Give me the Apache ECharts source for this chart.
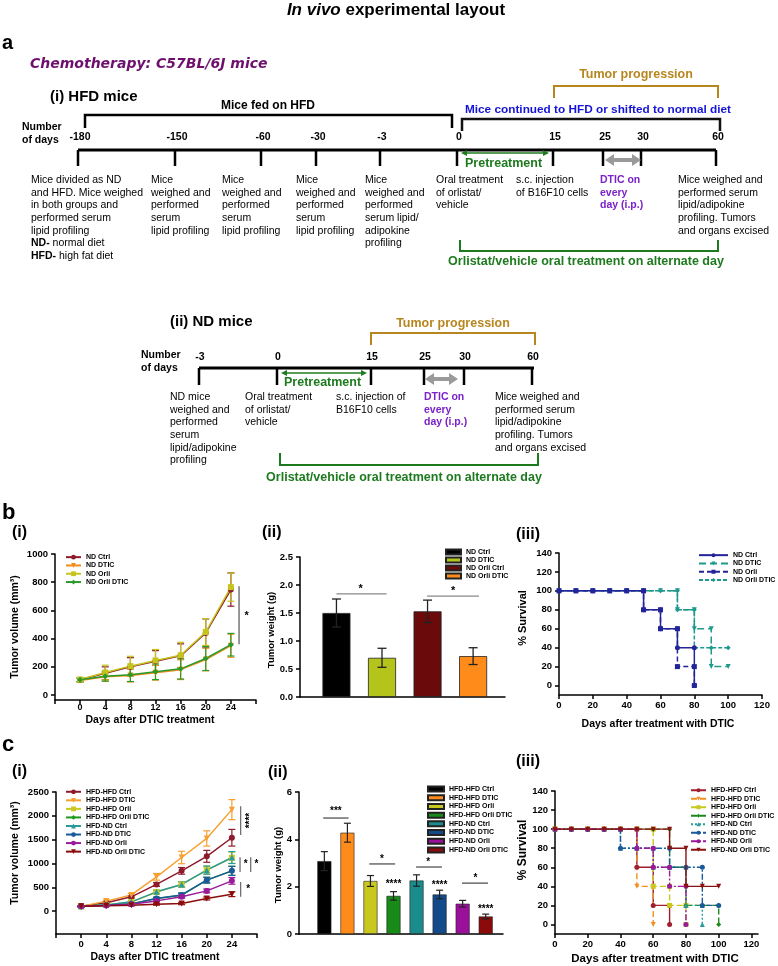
<!DOCTYPE html>
<html><head><meta charset="utf-8">
<script src="https://cdn.jsdelivr.net/npm/echarts@6/dist/echarts.min.js"></script>
<style>html,body{margin:0;padding:0;background:#fff}#c{width:778px;height:966px}</style>
</head><body><div id="c"></div>
<script>
// ===================== DATA =====================
// Panel a (schematic timelines)
const hfdTickLabels = ['-180','-150','-60','-30','-3','0','15','25','30','60'];
const ndTickLabels = ['-3','0','15','25','30','60'];
const hfdNotes = [
  ['Mice divided as ND','and HFD. Mice weighed','in both groups and','performed serum','lipid profiling','{b|ND-} normal diet','{b|HFD-} high fat diet'],
  ['Mice','weighed and','performed','serum','lipid profiling'],
  ['Mice','weighed and','performed','serum','lipid profiling'],
  ['Mice','weighed and','performed','serum','lipid profiling'],
  ['Mice','weighed and','performed','serum lipid/','adipokine','profiling'],
  ['Oral treatment','of orlistat/','vehicle'],
  ['s.c. injection','of B16F10 cells'],
  ['DTIC on','every','day (i.p.)'],
  ['Mice weighed and','performed serum','lipid/adipokine','profiling. Tumors','and organs excised']
];
const ndNotes = [
  ['ND mice','weighed and','performed','serum','lipid/adipokine','profiling'],
  ['Oral treatment','of orlistat/','vehicle'],
  ['s.c. injection of','B16F10 cells'],
  ['DTIC on','every','day (i.p.)'],
  ['Mice weighed and','performed serum','lipid/adipokine','profiling. Tumors','and organs excised']
];

// Panel b(i): tumor volume, ND groups
const b1Days = [0,4,8,12,16,20,24];
const b1Names = ['ND Ctrl','ND DTIC','ND Orli','ND Orli DTIC'];
const b1Ctrl = [108,155,200,240,278,440,748];
const b1CtrlErr = [12,45,65,75,85,100,118];
const b1Dtic = [104,130,138,158,180,252,350];
const b1DticErr = [12,32,45,52,70,80,82];
const b1Orli = [110,160,205,245,282,447,765];
const b1OrliErr = [14,52,70,78,92,95,100];
const b1OrliDtic = [108,134,144,165,186,259,357];
const b1OrliDticErr = [14,35,48,55,72,85,80];
const b1YTicks = [0,200,400,600,800,1000];
const b1SigLines = [[25.3,360,25.3,771]];
const b1SigPts = [[26.5,560]];
const b1SigText = ['*'];

// Panel b(ii): tumor weight, ND groups
const b2Names = ['ND Ctrl','ND DTIC','ND Orli Ctrl','ND Orli DTIC'];
const b2Vals = [1.50,0.70,1.53,0.73];
const b2Err = [0.25,0.17,0.20,0.15];
const b2SigLines = [[0,1.84,1.1,1.84],[1.99,1.80,3.13,1.80]];
const b2SigPts = [[0.53,1.93],[2.56,1.89]];
const b2SigText = ['*','*'];

// Panel b(iii): survival, ND groups
const b3Names = ['ND Ctrl','ND DTIC','ND Orli','ND Orli DTIC'];
const b3Ctrl = [[0,100],[10,100],[20,100],[30,100],[40,100],[50,100],[50,80],[60,80],[60,60],[70,60],[70,40],[80,40],[80,0]];
const b3Dtic = [[0,100],[10,100],[20,100],[30,100],[40,100],[50,100],[60,100],[70,100],[70,80],[80,80],[80,60],[90,60],[90,20],[100,20]];
const b3Orli = [[0,100],[10,100],[20,100],[30,100],[40,100],[50,100],[50,80],[60,80],[60,60],[70,60],[70,20],[80,20],[80,0]];
const b3OrliDtic = [[0,100],[10,100],[20,100],[30,100],[40,100],[50,100],[60,100],[70,100],[70,80],[80,80],[80,40],[90,40],[100,40]];
const survYTicks = [0,20,40,60,80,100,120,140];
const survXTicks = [0,20,40,60,80,100,120];

// Panel c(i): tumor volume, HFD groups
const c1Days = [0,4,8,12,16,20,24];
const c1Names = ['HFD-HFD Ctrl','HFD-HFD DTIC','HFD-HFD Orli','HFD-HFD Orli DTIC','HFD-ND Ctrl','HFD-ND DTIC','HFD-ND Orli','HFD-ND Orli DTIC'];
const c1HHCtrl = [100,175,300,560,845,1150,1540];
const c1HHDtic = [100,210,340,720,1125,1525,2130];
const c1HHOrli = [100,130,190,400,560,860,1120];
const c1HHOrliDtic = [100,125,150,265,335,650,845];
const c1HNCtrl = [100,130,195,405,560,860,1125];
const c1HNDtic = [100,125,152,265,340,650,845];
const c1HNOrli = [100,120,145,215,300,425,635];
const c1HNOrliDtic = [100,115,125,145,160,265,355];
const c1HHCtrlErr = [10,15,25,40,70,125,175];
const c1HHDticErr = [10,20,30,70,130,160,210];
const c1HHOrliErr = [10,15,20,30,55,85,120];
const c1HHOrliDticErr = [10,12,18,25,40,60,95];
const c1HNCtrlErr = [10,15,20,35,55,85,125];
const c1HNDticErr = [10,12,18,25,40,60,95];
const c1HNOrliErr = [10,12,15,20,30,40,70];
const c1HNOrliDticErr = [10,10,15,20,25,30,50];
const c1YTicks = [0,500,1000,1500,2000,2500];
const c1SigLines = [[25.4,1600,25.4,2200],[25.3,820,25.3,1130],[27.0,820,27.0,1130],[25.4,300,25.4,610]];
const c1SigPts = [[26.9,1900],[26.2,975],[27.9,975],[26.6,455]];
const c1SigText = ['****','*','*','*'];
const c1SigRot = [90,0,0,0];

// Panel c(ii): tumor weight, HFD groups
const c2Names = ['HFD-HFD Ctrl','HFD-HFD DTIC','HFD-HFD Orli','HFD-HFD Orli DTIC','HFD-ND Ctrl','HFD-ND DTIC','HFD-ND Orli','HFD-ND Orli DTIC'];
const c2Vals = [3.08,4.28,2.24,1.61,2.26,1.67,1.28,0.74];
const c2Err = [0.40,0.40,0.23,0.18,0.24,0.18,0.14,0.10];
const c2SigLines = [[-0.05,4.9,1.05,4.9],[1.95,2.96,3.07,2.96],[3.98,2.83,5.1,2.83],[5.97,2.15,7.1,2.15]];
const c2SigPts = [[0.5,5.2],[2.5,3.15],[3.0,2.1],[4.5,3.05],[5.0,2.05],[6.55,2.35],[7.0,1.05]];
const c2SigText = ['***','*','****','*','****','*','****'];

// Panel c(iii): survival, HFD groups
const c3Names = c1Names;
const c3HHCtrl = [[0,100],[10,100],[20,100],[30,100],[40,100],[50,100],[50,60],[60,60],[60,20],[70,20],[70,0]];
const c3HHDtic = [[0,100],[10,100],[20,100],[30,100],[40,100],[50,100],[50,40],[60,40],[60,0]];
const c3HHOrli = [[0,100],[10,100],[20,100],[30,100],[40,100],[50,100],[60,100],[60,40],[70,40],[70,20],[80,20],[80,0]];
const c3HHOrliDtic = [[0,100],[10,100],[20,100],[30,100],[40,100],[50,100],[60,100],[70,100],[70,60],[80,60],[80,20],[90,20],[100,20],[100,0]];
const c3HNCtrl = [[0,100],[10,100],[20,100],[30,100],[40,100],[40,80],[50,80],[60,80],[60,60],[70,60],[80,60],[80,20],[90,20],[90,0]];
const c3HNDtic = [[0,100],[10,100],[20,100],[30,100],[40,100],[40,80],[50,80],[60,80],[70,80],[70,60],[80,60],[90,60],[90,20],[100,20]];
const c3HNOrli = [[0,100],[10,100],[20,100],[30,100],[40,100],[50,100],[50,80],[60,80],[60,60],[70,60],[70,40],[80,40],[80,0]];
const c3HNOrliDtic = [[0,100],[10,100],[20,100],[30,100],[40,100],[50,100],[60,100],[70,100],[70,80],[80,80],[80,40],[90,40],[100,40]];

// ===================== STYLE / LAYOUT =====================
const F = "'Liberation Sans', Arial, sans-serif";
const GREEN = '#1E7A1E', GOLD = '#B8861E', PURPLE = '#7A22C8', BLUE = '#1414D8';
const hfdTickX = [78,175,261,316,380,457,553,603,641,716];
const ndTickX = [199,277,371,424,464,532];
const hfdNoteX = [31,151,222,296,365,436,516,600,678];
const ndNoteX = [170,245,336,424,495];
const b1Colors = ['#8E1B2B','#F08C1A','#C4C41C','#2A9A2A'];
const b1Sym = [['circle',0],['triangle',180],['rect',0],['diamond',0]];
const b2Colors = ['#000000','#B4C41A','#6B0A0A','#FF8C1A'];
const b3Colors = ['#24249A','#1E9A8C','#24249A','#1E9A8C'];
const b3Types = ['solid',[7,4],[5,3],[4,2]];
const b3Sym = [['circle',0],['triangle',180],['rect',0],['diamond',0]];
const c1Colors = ['#8E1B2B','#F5A030','#C8C81E','#1E9A1E','#2A9A9A','#1A5A9A','#9A1A9A','#8B0A0A'];
const c1Sym = [['circle',0],['triangle',180],['rect',0],['diamond',0],['triangle',0],['circle',0],['circle',0],['triangle',180]];
const c2Colors = ['#000000','#FF8C1A','#C8C81E','#178A17','#1A8C8C','#124A8A','#9A109A','#8B0A0A'];
const c3Colors = ['#A01E2E','#F0901E','#C8C81E','#1E8A1E','#2A9A9A','#1A5A9A','#9A1A9A','#8B1010'];
const c3Types = ['solid',[6,3],[6,3],[6,3],[2,2],[6,2,2,2],[6,2,2,2],'solid'];

// ===================== HELPERS =====================
function T(x, y, text, size, o) {
  o = o || {};
  const font = (o.italic ? 'italic ' : '') + (o.bold === false ? '' : 'bold ') + size + 'px ' + (o.family || F);
  const al = o.align || 'left';
  const st = {text: text, fill: o.color || '#000', font: font, align: al, verticalAlign: 'middle', textAlign: al, textVerticalAlign: 'middle'};
  if (o.rich) st.rich = o.rich;
  return {type: 'text', x: x, y: y, rotation: o.rot || 0, silent: true, z: 10, style: st};
}
function L(x1, y1, x2, y2, c, w) {
  return {type: 'line', silent: true, z: 10, shape: {x1, y1, x2, y2}, style: {stroke: c, lineWidth: w}};
}
function P(pts, c, w) {
  return {type: 'polyline', silent: true, z: 10, shape: {points: pts}, style: {stroke: c, lineWidth: w, fill: null}};
}
function DA(x1, x2, y, c, w, hl, hw) {
  return [
    L(x1 + hl * 0.8, y, x2 - hl * 0.8, y, c, w),
    {type: 'polygon', silent: true, z: 10, shape: {points: [[x1, y], [x1 + hl, y - hw / 2], [x1 + hl, y + hw / 2]]}, style: {fill: c}},
    {type: 'polygon', silent: true, z: 10, shape: {points: [[x2, y], [x2 - hl, y - hw / 2], [x2 - hl, y + hw / 2]]}, style: {fill: c}}
  ];
}
const richB = {b: {fontWeight: 'bold', fontSize: 10.5, fontFamily: F, fill: '#000'}};

// ===================== GRAPHIC (panel a + labels) =====================
const G = [];
G.push({type: 'text', x: 396, y: 10, silent: true, style: {text: '{i|In vivo} experimental layout', font: 'bold 17px ' + F, fill: '#000', align: 'center', verticalAlign: 'middle', textAlign: 'center', textVerticalAlign: 'middle', rich: {i: {fontStyle: 'italic', fontWeight: 'bold', fontSize: 17, fontFamily: F}}}});
G.push(T(2, 43, 'a', 20));
G.push(T(30, 64, 'Chemotherapy: C57BL/6J mice', 14, {italic: true, family: "'DejaVu Sans', sans-serif", color: '#6E0F6E'}));
// (i) HFD mice
G.push(T(636, 75, 'Tumor progression', 12.5, {color: GOLD, align: 'center'}));
G.push(P([[554, 98], [554, 86], [718, 86], [718, 98]], GOLD, 2));
G.push(T(50, 97, '(i) HFD mice', 15));
G.push(T(268, 106, 'Mice fed on HFD', 12, {align: 'center'}));
G.push(P([[85, 128], [85, 115], [452, 115], [452, 128]], '#000', 2.5));
G.push(T(598, 110, 'Mice continued to HFD or shifted to normal diet', 11.8, {color: BLUE, align: 'center'}));
G.push(P([[462, 131], [462, 119], [720, 119], [720, 131]], '#111', 2.5));
G.push(T(22, 127, 'Number', 10.5));
G.push(T(22, 140, 'of days', 10.5));
hfdTickLabels.forEach((t, i) => G.push(T(hfdTickX[i] + 2, 137, t, 10.5, {align: 'center'})));
G.push(L(78, 150, 716, 150, '#000', 3));
hfdTickX.forEach(x => G.push(L(x, 150, x, 166, '#000', 2.5)));
DA(461, 549, 153, GREEN, 1.5, 6, 6).forEach(e => G.push(e));
G.push(T(465, 164, 'Pretreatment', 12.5, {color: GREEN}));
DA(605, 641, 160, '#9A9A9A', 4, 9, 12).forEach(e => G.push(e));
hfdNotes.forEach((lines, i) => lines.forEach((s, j) => {
  const isD = i === 7;
  G.push(T(hfdNoteX[i], 180 + j * 12.7, s, 10.5, {bold: isD, color: isD ? PURPLE : '#000', rich: richB}));
}));
G.push(P([[460, 240], [460, 251], [718, 251], [718, 240]], GREEN, 2));
G.push(T(586, 262, 'Orlistat/vehicle oral treatment on alternate day', 12.5, {color: GREEN, align: 'center'}));
// (ii) ND mice
G.push(T(170, 322, '(ii) ND mice', 15));
G.push(T(453, 324, 'Tumor progression', 12.5, {color: GOLD, align: 'center'}));
G.push(P([[371, 345], [371, 333], [535, 333], [535, 345]], GOLD, 2));
G.push(T(141, 355, 'Number', 10.5));
G.push(T(141, 368, 'of days', 10.5));
ndTickLabels.forEach((t, i) => G.push(T(ndTickX[i] + 1, 357, t, 10.5, {align: 'center'})));
G.push(L(199, 368, 534, 368, '#000', 3));
ndTickX.forEach(x => G.push(L(x, 368, x, 385, '#000', 2.5)));
DA(281, 367, 373, GREEN, 1.5, 6, 6).forEach(e => G.push(e));
G.push(T(284, 383, 'Pretreatment', 12.5, {color: GREEN}));
DA(425, 458, 379, '#9A9A9A', 4, 9, 12).forEach(e => G.push(e));
ndNotes.forEach((lines, i) => lines.forEach((s, j) => {
  const isD = i === 3;
  G.push(T(ndNoteX[i], 397 + j * 12.7, s, 10.5, {bold: isD, color: isD ? PURPLE : '#000'}));
}));
G.push(P([[280, 453], [280, 465], [538, 465], [538, 453]], GREEN, 2));
G.push(T(404, 478, 'Orlistat/vehicle oral treatment on alternate day', 12.5, {color: GREEN, align: 'center'}));
// panel labels b, c
G.push(T(2, 513, 'b', 22));
G.push(T(12, 533, '(i)', 16));
G.push(T(262, 533, '(ii)', 16));
G.push(T(516, 535, '(iii)', 16));
G.push(T(2, 745, 'c', 22));
G.push(T(12, 772, '(i)', 16));
G.push(T(268, 773, '(ii)', 16));
G.push(T(516, 762, '(iii)', 16));
// axis titles
const R = Math.PI / 2;
G.push(T(15, 627, 'Tumor volume (mm\u00B3)', 10.5, {rot: R, align: 'center'}));
G.push(T(150, 720, 'Days after DTIC treatment', 10.5, {align: 'center'}));
G.push(T(271, 630, 'Tumor weight (g)', 9.5, {rot: R, align: 'center'}));
G.push(T(523, 618, '% Survival', 11, {rot: R, align: 'center'}));
G.push(T(658, 724, 'Days after treatment with DTIC', 10.5, {align: 'center'}));
G.push(T(15, 853, 'Tumor volume (mm\u00B3)', 10.5, {rot: R, align: 'center'}));
G.push(T(155, 957, 'Days after DTIC treatment', 10.5, {align: 'center'}));
G.push(T(278, 865, 'Tumor weight (g)', 9.5, {rot: R, align: 'center'}));
G.push(T(523, 850, '% Survival', 12, {rot: R, align: 'center'}));
G.push(T(655, 959, 'Days after treatment with DTIC', 11.5, {align: 'center'}));

// ===================== AXES =====================
const plain = v => String(v);
function ax(extra) {
  const base = {
    type: 'value',
    axisLine: {show: true, onZero: false, lineStyle: {color: '#000', width: 1.5}},
    axisTick: {show: true, inside: false, length: 4, lineStyle: {color: '#000', width: 1.5}},
    axisLabel: {color: '#000', fontWeight: 'bold', fontSize: 9.5, fontFamily: F, margin: 7, formatter: plain},
    splitLine: {show: false}
  };
  const out = Object.assign({}, base, extra);
  if (extra.axisLabel) out.axisLabel = Object.assign({}, base.axisLabel, extra.axisLabel);
  if (extra.axisTick) out.axisTick = Object.assign({}, base.axisTick, extra.axisTick);
  return out;
}
const grids = [
  {left: 55, top: 554, width: 201, height: 146},
  {left: 300, top: 557, width: 205, height: 140},
  {left: 559, top: 553, width: 203, height: 142},
  {left: 56, top: 792, width: 201, height: 142},
  {left: 299, top: 792, width: 204, height: 142},
  {left: 555, top: 791, width: 203, height: 143}
].map(g => Object.assign({containLabel: false, outerBoundsMode: 'none'}, g));

const dayFmt = v => (v < 0 || v > 24) ? '' : String(v);
const xAxes = [
  ax({gridIndex: 0, min: -4, max: 28, interval: 4, axisLabel: {formatter: dayFmt, margin: 3, fontSize: 9}}),
  ax({gridIndex: 1, min: -0.8, max: 3.7, axisTick: {show: false}, axisLabel: {show: false}}),
  ax({gridIndex: 2, min: 0, max: 120, axisLabel: {customValues: survXTicks, margin: 5}, axisTick: {customValues: survXTicks}}),
  ax({gridIndex: 3, min: -4, max: 28, interval: 4, axisLabel: {formatter: dayFmt, margin: 5}}),
  ax({gridIndex: 4, min: -1.1, max: 7.75, axisTick: {show: false}, axisLabel: {show: false}}),
  ax({gridIndex: 5, min: 0, max: 124, axisLabel: {customValues: survXTicks, margin: 5}, axisTick: {customValues: survXTicks}})
];
const yAxes = [
  ax({gridIndex: 0, min: -35, max: 1000, axisLabel: {customValues: b1YTicks}, axisTick: {customValues: b1YTicks}}),
  ax({gridIndex: 1, min: 0, max: 2.5, interval: 0.5, axisLabel: {formatter: v => v.toFixed(1)}}),
  ax({gridIndex: 2, min: -10, max: 140, axisLabel: {customValues: survYTicks}, axisTick: {customValues: survYTicks}}),
  ax({gridIndex: 3, min: -480, max: 2500, axisLabel: {customValues: c1YTicks}, axisTick: {customValues: c1YTicks}}),
  ax({gridIndex: 4, min: 0, max: 6, interval: 2}),
  ax({gridIndex: 5, min: -10, max: 140, axisLabel: {customValues: survYTicks}, axisTick: {customValues: survYTicks}})
];

// ===================== SERIES =====================
const series = [];
function errSeries(idx, rows, color, capW, lw) {
  return {
    type: 'custom', name: 'err' + idx + color, xAxisIndex: idx, yAxisIndex: idx, silent: true, z: 4,
    data: rows,
    renderItem: function (p, api) {
      const x = api.value(0), y = api.value(1), e = api.value(2);
      const t = api.coord([x, y + e]), b = api.coord([x, y - e]);
      const c = capW / 2, st = {stroke: color, lineWidth: lw || 1.2};
      return {type: 'group', children: [
        {type: 'line', shape: {x1: t[0], y1: t[1], x2: b[0], y2: b[1]}, style: st},
        {type: 'line', shape: {x1: t[0] - c, y1: t[1], x2: t[0] + c, y2: t[1]}, style: st},
        {type: 'line', shape: {x1: b[0] - c, y1: b[1], x2: b[0] + c, y2: b[1]}, style: st}
      ]};
    }
  };
}
function sigLines(idx, rows, color) {
  return {
    type: 'custom', name: 'sigl' + idx, xAxisIndex: idx, yAxisIndex: idx, silent: true, z: 6, data: rows,
    renderItem: function (p, api) {
      const a = api.coord([api.value(0), api.value(1)]), b = api.coord([api.value(2), api.value(3)]);
      return {type: 'line', shape: {x1: a[0], y1: a[1], x2: b[0], y2: b[1]}, style: {stroke: color, lineWidth: 1.2}};
    }
  };
}
function sigText(idx, pts, labels, size, rots) {
  return {
    type: 'custom', name: 'sigt' + idx, xAxisIndex: idx, yAxisIndex: idx, silent: true, z: 6, data: pts,
    renderItem: function (p, api) {
      const a = api.coord([api.value(0), api.value(1)]);
      const r = rots ? rots[p.dataIndex] * Math.PI / 180 : 0;
      return {type: 'text', x: a[0], y: a[1], rotation: r,
        style: {text: labels[p.dataIndex], font: 'bold ' + size + 'px ' + F, fill: '#000', align: 'center', verticalAlign: 'middle', textAlign: 'center', textVerticalAlign: 'middle'}};
    }
  };
}

// b(i)
const b1Vals = [b1Ctrl, b1Dtic, b1Orli, b1OrliDtic];
const b1Errs = [b1CtrlErr, b1DticErr, b1OrliErr, b1OrliDticErr];
b1Names.forEach((n, i) => {
  series.push(errSeries(0, b1Days.map((d, j) => [d, b1Vals[i][j], b1Errs[i][j]]), b1Colors[i], 7, 1.2));
});
b1Names.forEach((n, i) => {
  series.push({type: 'line', name: n + '#b1', xAxisIndex: 0, yAxisIndex: 0, z: 5,
    data: b1Days.map((d, j) => [d, b1Vals[i][j]]),
    symbol: b1Sym[i][0], symbolRotate: b1Sym[i][1], symbolSize: 6, showAllSymbol: true,
    lineStyle: {color: b1Colors[i], width: 1.5}, itemStyle: {color: b1Colors[i]}});
});
series.push(sigLines(0, b1SigLines, '#555'));
series.push(sigText(0, b1SigPts, b1SigText, 11));

// b(ii)
b2Names.forEach((n, i) => {
  series.push({type: 'bar', name: n + '#b2', xAxisIndex: 1, yAxisIndex: 1, barWidth: 28, barGap: '-100%', z: 3,
    data: [[i, b2Vals[i]]], itemStyle: {color: b2Colors[i], borderColor: '#222', borderWidth: 0.8}});
});
series.push(errSeries(1, b2Vals.map((v, i) => [i, v, b2Err[i]]), '#222', 9, 1.3));
series.push(sigLines(1, b2SigLines, '#888'));
series.push(sigText(1, b2SigPts, b2SigText, 11));

// b(iii)
const b3Data = [b3Ctrl, b3Dtic, b3Orli, b3OrliDtic];
b3Names.forEach((n, i) => {
  series.push({type: 'line', name: n + '#b3', xAxisIndex: 2, yAxisIndex: 2, z: 5 - (i % 2),
    data: b3Data[i], symbol: b3Sym[i][0], symbolRotate: b3Sym[i][1], symbolSize: 5, showAllSymbol: true,
    lineStyle: {color: b3Colors[i], width: 1.5, type: b3Types[i]}, itemStyle: {color: b3Colors[i]}});
});

// c(i)
const c1Vals = [c1HHCtrl, c1HHDtic, c1HHOrli, c1HHOrliDtic, c1HNCtrl, c1HNDtic, c1HNOrli, c1HNOrliDtic];
const c1Errs = [c1HHCtrlErr, c1HHDticErr, c1HHOrliErr, c1HHOrliDticErr, c1HNCtrlErr, c1HNDticErr, c1HNOrliErr, c1HNOrliDticErr];
c1Names.forEach((n, i) => {
  series.push(errSeries(3, c1Days.map((d, j) => [d, c1Vals[i][j], c1Errs[i][j]]), c1Colors[i], 7, 1.2));
});
c1Names.forEach((n, i) => {
  series.push({type: 'line', name: n + '#c1', xAxisIndex: 3, yAxisIndex: 3, z: 5,
    data: c1Days.map((d, j) => [d, c1Vals[i][j]]),
    symbol: c1Sym[i][0], symbolRotate: c1Sym[i][1], symbolSize: 6, showAllSymbol: true,
    lineStyle: {color: c1Colors[i], width: 1.5}, itemStyle: {color: c1Colors[i]}});
});
series.push(sigLines(3, c1SigLines, '#666'));
series.push(sigText(3, c1SigPts, c1SigText, 10, c1SigRot));

// c(ii)
c2Names.forEach((n, i) => {
  series.push({type: 'bar', name: n + '#c2', xAxisIndex: 4, yAxisIndex: 4, barWidth: 14, barGap: '-100%', z: 3,
    data: [[i, c2Vals[i]]], itemStyle: {color: c2Colors[i], borderColor: '#222', borderWidth: 0.6}});
});
series.push(errSeries(4, c2Vals.map((v, i) => [i, v, c2Err[i]]), '#222', 7, 1.2));
series.push(sigLines(4, c2SigLines, '#444'));
series.push(sigText(4, c2SigPts, c2SigText, 10));

// c(iii)
const c3Data = [c3HHCtrl, c3HHDtic, c3HHOrli, c3HHOrliDtic, c3HNCtrl, c3HNDtic, c3HNOrli, c3HNOrliDtic];
c3Names.forEach((n, i) => {
  series.push({type: 'line', name: n + '#c3', xAxisIndex: 5, yAxisIndex: 5, z: 5 + (i === 7 ? 1 : 0),
    data: c3Data[i], symbol: c1Sym[i][0], symbolRotate: c1Sym[i][1], symbolSize: 5, showAllSymbol: true,
    lineStyle: {color: c3Colors[i], width: 1.4, type: c3Types[i]}, itemStyle: {color: c3Colors[i]}});
});

// ===================== LEGENDS =====================
function legend(names, suf, left, top, iw, ih, lh, icon) {
  const l = {orient: 'vertical', left: left, top: top, padding: 0, itemGap: 0, itemWidth: iw, itemHeight: ih,
    selectedMode: false, data: names.map(n => n + suf), formatter: n => n.split('#')[0],
    textStyle: {fontSize: 7, fontWeight: 'bold', fontFamily: F, color: '#000', lineHeight: lh, padding: 0}};
  if (icon) l.icon = icon;
  return l;
}
const legends = [
  legend(b1Names, '#b1', 65, 553, 15, 6, 8.3),
  legend(b2Names, '#b2', 445, 548, 15, 5, 8, 'rect'),
  legend(b3Names, '#b3', 698, 551, 29, 5, 8.3),
  legend(c1Names, '#c1', 65, 787.5, 15, 6, 8.55),
  legend(c2Names, '#c2', 427, 784.7, 16, 5, 8.7, 'rect'),
  legend(c3Names, '#c3', 690, 786, 15, 5, 8.5)
];

const chart = echarts.init(document.getElementById('c'), null, {renderer: 'canvas', width: 778, height: 966});
chart.setOption({
  animation: false,
  backgroundColor: '#fff',
  textStyle: {fontFamily: F},
  grid: grids,
  xAxis: xAxes,
  yAxis: yAxes,
  legend: legends,
  series: series,
  graphic: {elements: G}
});
</script>
</body></html>
